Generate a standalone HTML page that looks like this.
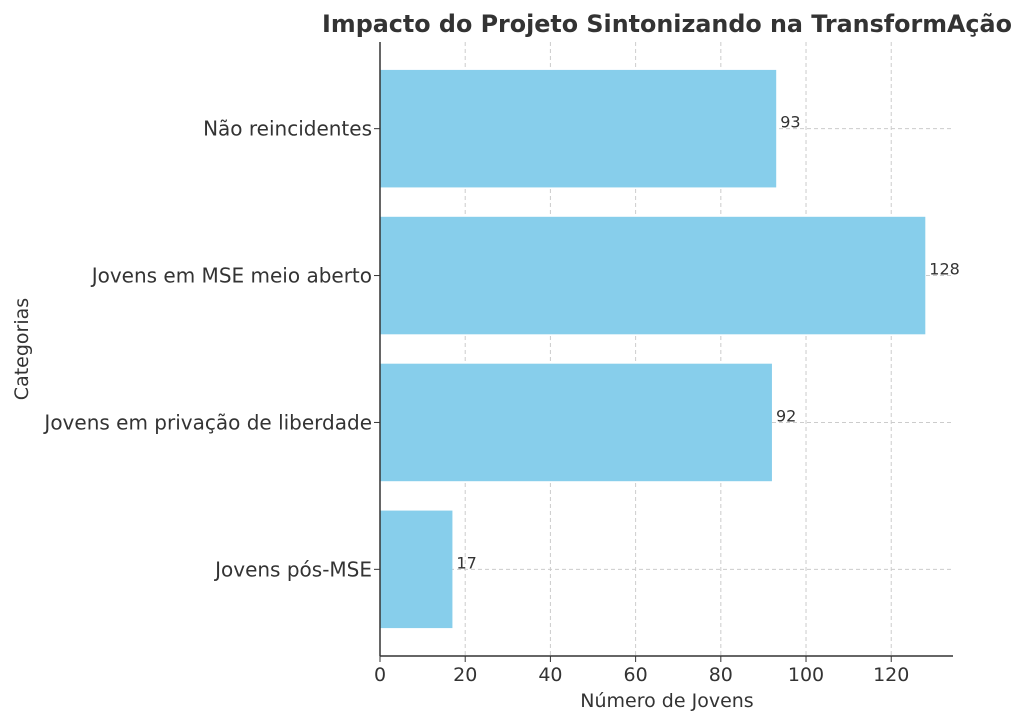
<!DOCTYPE html>
<html><head><meta charset="utf-8"><style>
body{margin:0;background:#fff;}
svg{display:block;font-family:"DejaVu Sans","Liberation Sans",sans-serif;}
</style></head><body>
<svg width="1024" height="723">
<g id="grid"></g><g id="bars"></g><g id="axes"></g>
<text x="667" y="32" text-anchor="middle" font-size="23.8" font-weight="bold" fill="#333">Impacto do Projeto Sintonizando na TransformAção</text>
<text x="667" y="707" text-anchor="middle" font-size="19" fill="#333">Número de Jovens</text>
<text transform="translate(28,349) rotate(-90)" text-anchor="middle" font-size="19" fill="#333">Categorias</text>
</svg>
<script>
const categories=["Não reincidentes","Jovens em MSE meio aberto","Jovens em privação de liberdade","Jovens pós-MSE"];
const values=[93,128,92,17];
const xTicks=[0,20,40,60,80,100,120];
const L=380,R=953,T=42,B=656,xmax=134.5;
const sx=v=>L+v*(R-L)/xmax;
const step=(B-T)/4.18;
const sy=i=>T+step*(0.59+i);
const NS="http://www.w3.org/2000/svg";
function mk(p,tag,a){const e=document.createElementNS(NS,tag);for(const k in a)e.setAttribute(k,a[k]);p.appendChild(e);return e;}
const g=document.getElementById('grid'),b=document.getElementById('bars'),ax=document.getElementById('axes');
xTicks.forEach(t=>{
 const l=mk(g,'line',{x1:sx(t),x2:sx(t),y1:T,y2:B,stroke:'#ccc','stroke-dasharray':'4,3'});
 
 
 mk(ax,'line',{x1:sx(t),x2:sx(t),y1:B,y2:B+6,stroke:'#333'});
 const tx=mk(ax,'text',{x:sx(t),y:B+25,'text-anchor':'middle','font-size':19,fill:'#333'});tx.textContent=t;
 
 
});
categories.forEach((c,i)=>{
 const y=sy(i);
 const gl=mk(g,'line',{x1:L,x2:R,y1:y,y2:y,stroke:'#ccc','stroke-dasharray':'4,3'});
 
 
 const r=mk(b,'rect',{x:L,y:y-step*0.4,width:sx(values[i])-L,height:step*0.8,fill:'#87ceeb'});
 
 
 const v=mk(b,'text',{x:sx(values[i])+4,y:y-1,'font-size':16,fill:'#333'});v.textContent=values[i];
 
 
 mk(ax,'line',{x1:L-6,x2:L,y1:y,y2:y,stroke:'#333'});
 const tl=mk(ax,'text',{x:L-8,y:y+7,'text-anchor':'end','font-size':20,fill:'#333'});tl.textContent=c;
 
 
});
mk(ax,'line',{x1:L,x2:L,y1:T,y2:B,stroke:'#333','stroke-width':1.5});
mk(ax,'line',{x1:L,x2:R,y1:B,y2:B,stroke:'#333','stroke-width':1.5});
</script>
</body></html>
